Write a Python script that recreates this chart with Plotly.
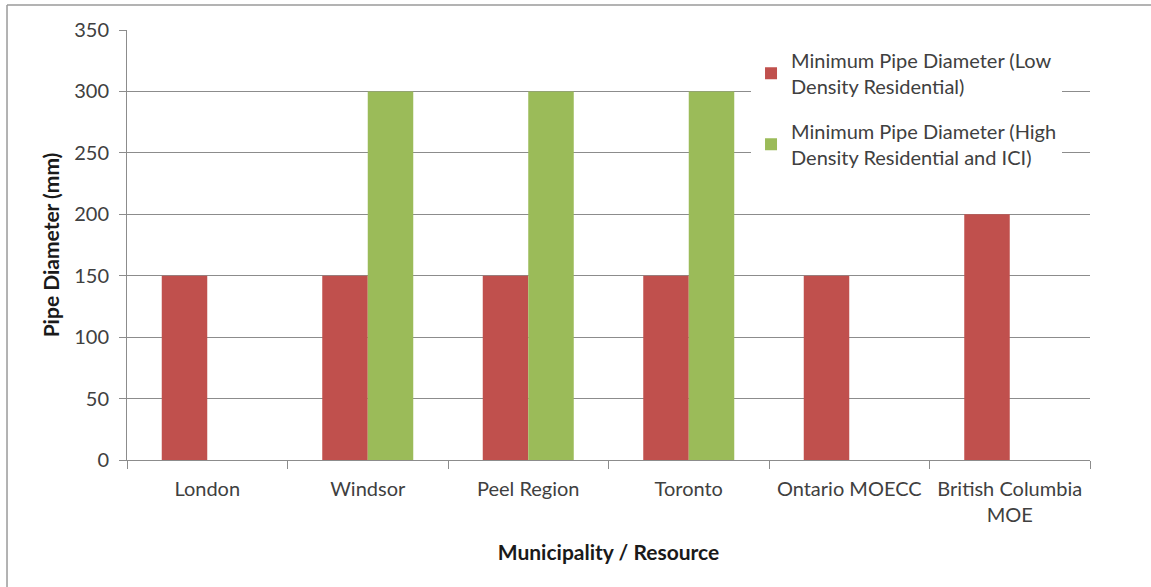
import plotly.graph_objects as go

categories = ["London", "Windsor", "Peel Region", "Toronto", "Ontario MOECC", "British Columbia<br>MOE"]
low_density = [150, 150, 150, 150, 150, 200]
high_density = [None, 300, 300, 300, None, None]
y_ticks = [0, 50, 100, 150, 200, 250, 300, 350]

FONT = "Lato, 'Open Sans', sans-serif"
TEXT = "#404040"
GRID = "#8c8c8c"

fig = go.Figure()
fig.add_trace(go.Bar(
    x=categories, y=low_density,
    name="Minimum Pipe Diameter (Low<br>Density Residential)",
    legendgroup="low",
    marker=dict(color="#C0504D", line=dict(width=0)),
))
fig.add_trace(go.Bar(
    x=categories, y=high_density,
    name="Minimum Pipe Diameter (High<br>Density Residential and ICI)",
    legendgroup="high",
    marker=dict(color="#9BBB59", line=dict(width=0)),
))

fig.update_layout(
    width=1151, height=587,
    margin=dict(l=127, r=61, t=30, b=127),
    paper_bgcolor="white", plot_bgcolor="white",
    barmode="group", bargap=0.433, bargroupgap=0,
    font=dict(family=FONT, size=20, color=TEXT),
    legend=dict(
        x=0.648, y=0.975, xanchor="left", yanchor="top",
        bgcolor="white", font=dict(size=20, color=TEXT),
        traceorder="grouped", tracegroupgap=16, itemwidth=30,
    ),
    xaxis=dict(
        automargin=False, tickangle=0,
        showline=True, linecolor=GRID, linewidth=1,
        ticks="outside", ticklen=8, tickcolor=GRID, tickson="boundaries",
        ticklabelstandoff=11,
        tickfont=dict(size=20, color=TEXT),
        title=dict(text="<b>Municipality / Resource</b>", font=dict(size=21, color="#1a1a1a"), standoff=20),
    ),
    yaxis=dict(
        automargin=False,
        range=[0, 350], tickvals=y_ticks,
        showline=True, linecolor=GRID, linewidth=1,
        showgrid=True, gridcolor=GRID, gridwidth=1,
        ticks="outside", ticklen=7, tickcolor=GRID,
        ticklabelstandoff=6,
        tickfont=dict(size=20, color=TEXT),
        title=dict(text="<b>Pipe Diameter (mm)</b>", font=dict(size=21, color="#1a1a1a"), standoff=8),
        zeroline=False,
    ),
)

# Outer chart frame (top and left edges)
fig.add_shape(type="line", xref="paper", yref="paper", x0=-0.1246, x1=1.07, y0=1.0581, y1=1.0581,
              line=dict(color="#9a9a9a", width=1.5))
fig.add_shape(type="line", xref="paper", yref="paper", x0=-0.1246, x1=-0.1246, y0=-0.30, y1=1.0581,
              line=dict(color="#9a9a9a", width=1.5))

fig.write_html("out.html")
